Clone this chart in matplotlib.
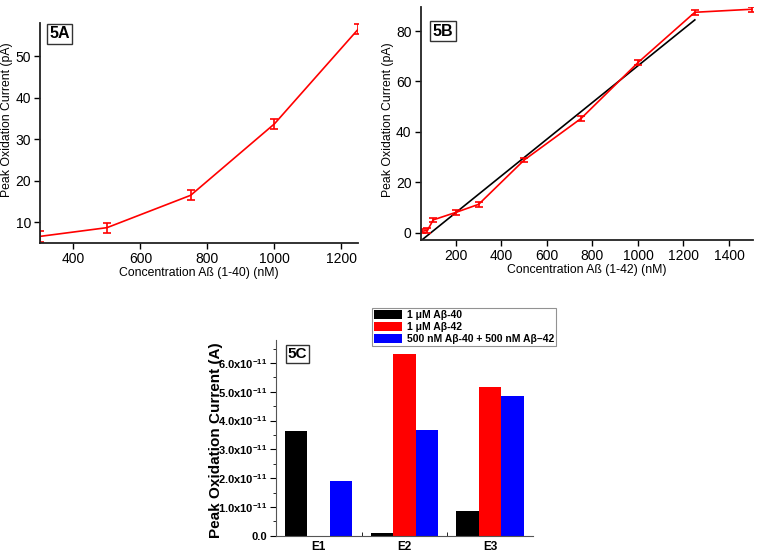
import matplotlib
matplotlib.use("Agg")
import matplotlib.pyplot as plt
from matplotlib.ticker import FuncFormatter, FixedLocator
import numpy as np

plt.rcParams['font.family'] = ['Liberation Sans', 'DejaVu Sans']
plt.rcParams['mathtext.fontset'] = 'custom'
plt.rcParams['mathtext.rm'] = 'Liberation Sans:bold'
plt.rcParams['mathtext.default'] = 'rm'

# panel 5A data
concA = [300, 500, 750, 1000, 1250]
currA = [6.6, 8.7, 16.5, 33.7, 56.5]
errA = [1.3, 1.2, 1.2, 1.2, 1.2]

# panel 5B data
concB = [50, 75, 100, 200, 300, 500, 750, 1000, 1250, 1500]
currB = [0.5, 0.8, 5.0, 8.0, 11.2, 28.8, 45.3, 67.5, 87.5, 88.7]
errB = [0.8, 0.8, 0.9, 0.9, 0.9, 0.9, 0.9, 0.9, 0.9, 0.9]
fit_slope = 0.0729
fit_intercept = -6.65
fit_range = [50, 1250]

# panel 5C data
electrodes = ["E1", "E2", "E3"]
series_names = ["1 \u03bcM A\u03b2-40", "1 \u03bcM A\u03b2-42", "500 nM A\u03b2-40 + 500 nM A\u03b2\u201342"]
series_vals = [
    [3.65e-11, 0.08e-11, 0.87e-11],
    [0.0, 6.33e-11, 5.17e-11],
    [1.90e-11, 3.68e-11, 4.85e-11],
]
series_colors = ["black", "red", "blue"]
c_yticks = [0, 1e-11, 2e-11, 3e-11, 4e-11, 5e-11, 6e-11]

fig = plt.figure(figsize=(7.62, 5.57), dpi=100)

def style_line_axes(ax):
    for s in ["top", "right"]:
        ax.spines[s].set_visible(False)
    for s in ["left", "bottom"]:
        ax.spines[s].set_linewidth(1.3)
        ax.spines[s].set_color("#222222")
    ax.tick_params(direction="out", length=4.5, width=1, labelsize=10, pad=2)

# ---- 5A
axA = fig.add_axes([0.0525, 0.5637, 0.4175, 0.395])
axA.errorbar(concA, currA, yerr=errA, color="red", lw=1.2, capsize=3, elinewidth=1.2, capthick=1.2)
axA.set_xlim(300, 1250)
axA.set_ylim(5, 58)
axA.set_xticks([400, 600, 800, 1000, 1200])
axA.set_yticks([10, 20, 30, 40, 50])
axA.set_xlabel("Concentration A\u00df (1-40) (nM)", fontsize=8.8, labelpad=1)
axA.set_ylabel("Peak Oxidation Current (pA)", fontsize=8.8)
axA.yaxis.set_label_coords(-0.085, 0.56)
style_line_axes(axA)
axA.text(0.03, 0.985, "5A", transform=axA.transAxes, fontsize=11.5, fontweight="bold", va="top", ha="left",
         bbox=dict(boxstyle="square,pad=0.15", fc="white", ec="#333333", lw=1))

# ---- 5B
axB = fig.add_axes([0.552, 0.569, 0.436, 0.418])
xf = np.array(fit_range)
axB.plot(xf, fit_slope * xf + fit_intercept, color="black", lw=1.2)
axB.errorbar(concB, currB, yerr=errB, color="red", lw=1.2, capsize=3, elinewidth=1.2, capthick=1.2)
axB.set_xlim(45, 1505)
axB.set_ylim(-3, 89.5)
axB.set_xticks([200, 400, 600, 800, 1000, 1200, 1400])
axB.set_yticks([0, 20, 40, 60, 80])
axB.set_xlabel("Concentration A\u00df (1-42) (nM)", fontsize=8.8, labelpad=1)
axB.set_ylabel("Peak Oxidation Current (pA)", fontsize=8.8)
axB.yaxis.set_label_coords(-0.08, 0.515)
style_line_axes(axB)
axB.text(0.036, 0.93, "5B", transform=axB.transAxes, fontsize=11.5, fontweight="bold", va="top", ha="left",
         bbox=dict(boxstyle="square,pad=0.15", fc="white", ec="#333333", lw=1))

# ---- 5C
axC = fig.add_axes([0.362, 0.0382, 0.3375, 0.3514])
x = np.arange(1, len(electrodes) + 1)
w = 0.262
for i, (name, vals, col) in enumerate(zip(series_names, series_vals, series_colors)):
    axC.bar(x + (i - 1) * w, vals, width=w, color=col, label=name)
axC.set_xlim(0.5, 3.5)
axC.set_ylim(0, 6.8e-11)
axC.set_xticks(x)
axC.set_xticklabels(electrodes, fontsize=8.5, fontweight="bold")
axC.xaxis.set_minor_locator(FixedLocator([1.5, 2.5]))
axC.tick_params(axis="x", which="major", length=0, pad=4)
axC.tick_params(axis="x", which="minor", direction="in", length=3)
axC.yaxis.set_major_locator(FixedLocator(c_yticks))
axC.yaxis.set_minor_locator(FixedLocator([t + 0.5e-11 for t in c_yticks]))
axC.yaxis.set_major_formatter(FuncFormatter(
    lambda v, p: "0.0" if abs(v) < 1e-15 else "%.1fx10$^{-11}$" % (v / 1e-11)))
axC.tick_params(axis="y", which="major", direction="out", length=4, labelsize=8, pad=2)
axC.tick_params(axis="y", which="minor", direction="out", length=2)
for lab in axC.get_yticklabels():
    lab.set_fontweight("bold")
for s in ["top", "right"]:
    axC.spines[s].set_visible(False)
for s in ["left", "bottom"]:
    axC.spines[s].set_color("#555555")
axC.set_ylabel("Peak Oxidation Current (A)", fontsize=11, fontweight="bold")
axC.yaxis.set_label_coords(-0.205, 0.49)
axC.text(0.045, 0.965, "5C", transform=axC.transAxes, fontsize=11, fontweight="bold", va="top", ha="left",
         bbox=dict(boxstyle="square,pad=0.12", fc="white", ec="#333333", lw=1))
leg = axC.legend(loc="lower left", bbox_to_anchor=(0.375, 0.97), prop=dict(size=7.5, weight="bold"),
                 frameon=True, fancybox=False, edgecolor="#777777", handlelength=2.7, handleheight=1.0,
                 handletextpad=0.4, borderpad=0.2, labelspacing=0.15, borderaxespad=0)
leg.get_frame().set_linewidth(0.8)

fig.savefig("out.png", dpi=100)
